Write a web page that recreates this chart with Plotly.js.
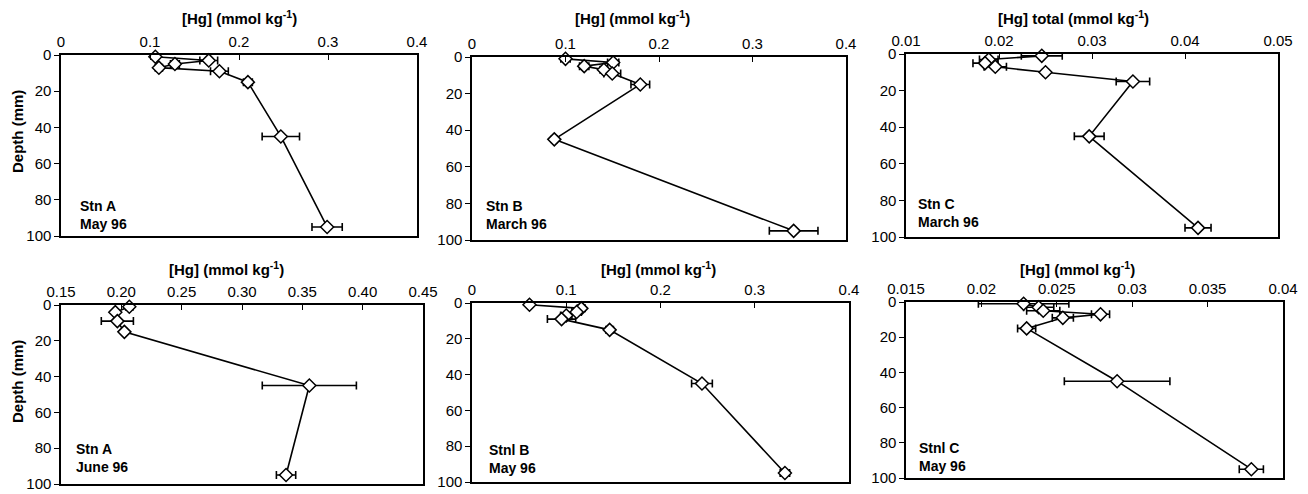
<!DOCTYPE html>
<html>
<head>
<meta charset="utf-8">
<script src="https://cdn.plot.ly/plotly-3.0.1.min.js"></script>
<style>
  html, body { margin: 0; padding: 0; background: #fff; }
  #chart { width: 1308px; height: 494px; }
</style>
</head>
<body>
<div id="chart"></div>
<script>
// ---- Data ----
const depthA_May = [1, 3, 5, 7, 9, 15, 45, 95];
const hgA_May    = [0.106, 0.166, 0.128, 0.110, 0.178, 0.210, 0.247, 0.299];
const errA_May   = [0.002, 0.010, 0.005, 0.004, 0.010, 0.005, 0.021, 0.017];

const depthB_Mar = [1, 3, 5, 7, 9, 15, 45, 95];
const hgB_Mar    = [0.100, 0.151, 0.120, 0.141, 0.150, 0.180, 0.088, 0.344];
const errB_Mar   = [0.005, 0.006, 0.005, 0.004, 0.009, 0.010, 0.003, 0.026];

const depthC_Mar = [1, 3, 5, 7, 10, 15, 45, 95];
const hgC_Mar    = [0.0246, 0.0189, 0.0185, 0.0196, 0.0250, 0.0344, 0.0297, 0.0414];
const errC_Mar   = [0.0022, 0.0010, 0.0013, 0.0012, 0.0003, 0.0018, 0.0016, 0.0014];

const depthA_Jun = [1, 4, 9, 15, 45, 95];
const hgA_Jun    = [0.2066, 0.1950, 0.1967, 0.2025, 0.3558, 0.3365];
const errA_Jun   = [0.003, 0.002, 0.0133, 0.002, 0.039, 0.008];

const depthB_May = [1, 3, 5, 7, 9, 15, 45, 95];
const hgB_May    = [0.061, 0.116, 0.111, 0.100, 0.095, 0.146, 0.244, 0.332];
const errB_May   = [0.002, 0.004, 0.005, 0.006, 0.015, 0.004, 0.011, 0.005];

const depthC_May = [1, 3, 5, 7, 9, 15, 45, 95];
const hgC_May    = [0.0228, 0.0238, 0.0241, 0.0279, 0.0254, 0.0230, 0.0290, 0.0379];
const errC_May   = [0.0030, 0.0010, 0.0011, 0.0006, 0.0007, 0.0006, 0.0035, 0.0008];

const axisTitles = ["[Hg] (mmol kg<sup>-1</sup>)", "[Hg] (mmol kg<sup>-1</sup>)", "[Hg] total (mmol kg<sup>-1</sup>)",
                    "[Hg] (mmol kg<sup>-1</sup>)", "[Hg] (mmol kg<sup>-1</sup>)", "[Hg] (mmol kg<sup>-1</sup>)"];
const stationLabels = ["Stn A<br>May 96", "Stn B<br>March 96", "Stn C<br>March 96",
                       "Stn A<br>June 96", "Stnl B<br>May 96", "Stnl C<br>May 96"];
const yTitle = "Depth (mm)";
const depthTicks = [0, 20, 40, 60, 80, 100];

// ---- Layout geometry (pixels) ----
const W = 1308, H = 494;
const boxes = [
  {l: 61,  r: 417,  t: 55,  b: 236, range: [0, 0.4],      dtick: 0.1},
  {l: 472, r: 846,  t: 57,  b: 240, range: [0, 0.4],      dtick: 0.1},
  {l: 906, r: 1278, t: 54,  b: 237, range: [0.01, 0.05],  dtick: 0.01},
  {l: 61,  r: 423,  t: 305, b: 484, range: [0.15, 0.45],  dtick: 0.05, fmt: '.2f'},
  {l: 472, r: 849,  t: 303, b: 482, range: [0, 0.4],      dtick: 0.1},
  {l: 906, r: 1283, t: 302, b: 478, range: [0.015, 0.04], dtick: 0.005}
];
const titlePos = [[239, 17], [632, 17], [1073, 17], [226, 268], [658, 268], [1077, 268]];
const stnOffset = [[17, 2], [12, 6], [10, 5], [13, 7], [15, 4], [11, 2]];

const series = [
  [hgA_May, depthA_May, errA_May],
  [hgB_Mar, depthB_Mar, errB_Mar],
  [hgC_Mar, depthC_Mar, errC_Mar],
  [hgA_Jun, depthA_Jun, errA_Jun],
  [hgB_May, depthB_May, errB_May],
  [hgC_May, depthC_May, errC_May]
];

const FONT = "Arial, 'Liberation Sans', sans-serif";
const traces = [];
const layout = {
  width: W, height: H,
  margin: {l: 0, r: 0, t: 0, b: 0},
  paper_bgcolor: '#fff', plot_bgcolor: '#fff',
  showlegend: false,
  font: {family: FONT, size: 15, color: '#000'},
  annotations: []
};

series.forEach((s, i) => {
  const n = i + 1;
  const xa = n === 1 ? 'x' : 'x' + n;
  const ya = n === 1 ? 'y' : 'y' + n;
  traces.push({
    type: 'scatter', mode: 'lines+markers',
    x: s[0], y: s[1], xaxis: xa, yaxis: ya,
    line: {color: '#000', width: 1.6},
    marker: {symbol: 'diamond', size: 10, color: '#fff', line: {color: '#000', width: 1.5}},
    error_x: {type: 'data', array: s[2], visible: true, color: '#000', thickness: 1.6, width: 4},
    cliponaxis: false
  });
  const b = boxes[i];
  const xkey = n === 1 ? 'xaxis' : 'xaxis' + n;
  const ykey = n === 1 ? 'yaxis' : 'yaxis' + n;
  layout[xkey] = {
    domain: [b.l / W, b.r / W],
    anchor: ya, side: 'top',
    range: b.range, dtick: b.dtick, tick0: b.range[0],
    tickformat: b.fmt || '',
    ticks: 'inside', ticklen: 5, tickwidth: 1, tickcolor: '#000',
    showline: true, linecolor: '#000', linewidth: 1.6, mirror: true,
    showgrid: false, zeroline: false,
    tickfont: {family: FONT, size: 15, color: '#000'}
  };
  layout[ykey] = {
    domain: [1 - b.b / H, 1 - b.t / H],
    anchor: xa,
    range: [100, 0], tickvals: depthTicks,
    ticks: 'outside', ticklen: 5, tickwidth: 1, tickcolor: '#000',
    showline: true, linecolor: '#000', linewidth: 1.6, mirror: true,
    showgrid: false, zeroline: false,
    tickfont: {family: FONT, size: 15, color: '#000'}
  };
  layout.annotations.push({
    xref: 'paper', yref: 'paper',
    x: titlePos[i][0] / W, y: 1 - titlePos[i][1] / H,
    xanchor: 'center', yanchor: 'middle', showarrow: false,
    text: '<b>' + axisTitles[i] + '</b>',
    font: {family: FONT, size: 15, color: '#000'}
  });
  layout.annotations.push({
    xref: 'paper', yref: 'paper',
    x: (b.l + stnOffset[i][0]) / W, y: 1 - (b.b - stnOffset[i][1]) / H,
    xanchor: 'left', yanchor: 'bottom', align: 'left', showarrow: false,
    text: '<b>' + stationLabels[i] + '</b>',
    font: {family: FONT, size: 14, color: '#000'}
  });
});

[[17, 132], [17, 382]].forEach(p => {
  layout.annotations.push({
    xref: 'paper', yref: 'paper',
    x: p[0] / W, y: 1 - p[1] / H,
    xanchor: 'center', yanchor: 'middle', showarrow: false,
    textangle: -90,
    text: '<b>' + yTitle + '</b>',
    font: {family: FONT, size: 15, color: '#000'}
  });
});

Plotly.newPlot('chart', traces, layout, {staticPlot: true, displayModeBar: false});
</script>
</body>
</html>
